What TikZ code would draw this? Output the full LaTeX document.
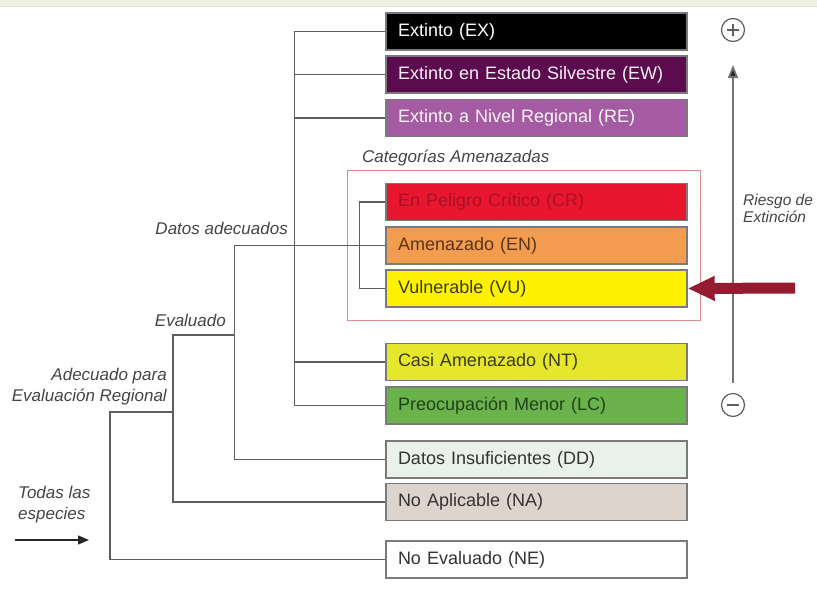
\documentclass[tikz,border=0pt]{standalone}
\usepackage{fontspec}
\setmainfont{Liberation Sans}
\usetikzlibrary{arrows.meta}
\definecolor{boxline}{HTML}{7A7A7A}
\definecolor{connc}{HTML}{5E5E5E}
\definecolor{cEW}{HTML}{5C0B4F}
\definecolor{cRE}{HTML}{A45BA1}
\definecolor{cCR}{HTML}{E8162E}
\definecolor{tCR}{HTML}{A8122A}
\definecolor{cEN}{HTML}{F39B4F}
\definecolor{tEN}{HTML}{5A3515}
\definecolor{cVU}{HTML}{FFF200}
\definecolor{tVU}{HTML}{3B3B12}
\definecolor{cNT}{HTML}{E6E62C}
\definecolor{cLC}{HTML}{6CB24C}
\definecolor{tLC}{HTML}{1D4418}
\definecolor{cDD}{HTML}{E9F1EA}
\definecolor{cNA}{HTML}{DDD5CD}
\definecolor{tdark}{HTML}{333333}
\definecolor{redbox}{HTML}{D9888C}
\definecolor{arrowred}{HTML}{951B30}
\definecolor{topband}{HTML}{EFF1E0}
\definecolor{labgray}{HTML}{444444}
\tikzset{
  cat/.style={draw=boxline, line width=1.4pt, text width=277pt, inner xsep=12pt,
    minimum height=37pt, align=left, font=\fontsize{18}{20}\selectfont},
  conn/.style={draw=connc, line width=1.3pt},
  lab/.style={text=labgray, font=\itshape\fontsize{17}{21}\selectfont, inner sep=0pt},
  pm/.style={circle, draw=connc, line width=1.2pt, minimum size=23pt, inner sep=0pt}
}
\begin{document}
\begin{tikzpicture}[x=1pt,y=-1pt]
\useasboundingbox (0,0) rectangle (817,590);
\clip (0,0) rectangle (817,590);
\fill[topband] (0,0) rectangle (817,6);
\draw[color=black!12, line width=0.8pt] (0,6.5) -- (817,6.5);

% category boxes
\node[cat, fill=black, text=white] (EX) at (536.5,31.5) {Extinto (EX)};
\node[cat, fill=cEW, text=white!95!cEW] (EW) at (536.5,74.5) {Extinto en Estado Silvestre (EW)};
\node[cat, fill=cRE, text=white!95!cRE] (RE) at (536.5,118) {Extinto a Nivel Regional (RE)};
\node[cat, fill=cCR, text=tCR] (CR) at (536.5,202) {En Peligro Crítico (CR)};
\node[cat, fill=cEN, text=tEN] (EN) at (536.5,245.5) {Amenazado (EN)};
\node[cat, fill=cVU, text=tVU] (VU) at (536.5,288.5) {Vulnerable (VU)};
\node[cat, fill=cNT, text=tVU] (NT) at (536.5,362) {Casi Amenazado (NT)};
\node[cat, fill=cLC, text=tLC] (LC) at (536.5,405.5) {Preocupación Menor (LC)};
\node[cat, fill=cDD, text=tdark] (DD) at (536.5,459.5) {Datos Insuficientes (DD)};
\node[cat, fill=cNA, text=tdark] (NA) at (536.5,502) {No Aplicable (NA)};
\node[cat, fill=white, text=tdark] (NE) at (536.5,559.5) {No Evaluado (NE)};

% threatened frame
\draw[redbox, line width=1pt] (347,170) rectangle (700,320);
\node[lab, anchor=west] (lcat) at (362,158) {Categorías Amenazadas};

% tree connectors
\draw[conn] (EX.west) -- ++(-91,0) coordinate (t1) |- (LC.west);
\draw[conn] (EW.west) -- (EW.west -| t1);
\draw[conn] (RE.west) -- (RE.west -| t1);
\draw[conn] (NT.west) -- (NT.west -| t1);
\draw[conn] (CR.west) -- ++(-26,0) |- (VU.west);
\draw[conn] (EN.west) -- ++(-151,0) coordinate (da) |- (DD.west);
\coordinate (ev) at (173,335);
\draw[conn] (da |- ev) -- (ev) |- (NA.west);
\coordinate (ad) at (110,412);
\draw[conn] (ev |- ad) -- (ad) |- (NE.west);

% branch labels
\node[lab, anchor=east] (lda) at (288,228) {Datos adecuados};
\node[lab, anchor=east] (lev) at (226,320) {Evaluado};
\node[lab, anchor=east, align=right] (lad) at (167,386.5) {Adecuado para\\Evaluación Regional};
\node[lab, anchor=west, align=left] (lto) at (18,505) {Todas las\\especies};
\coordinate (a0) at (15,540);
\coordinate (a1) at (89,540);
\draw[draw=black!85, line width=1.4pt, -{Triangle[length=11pt,width=9pt]}] (a0) -- (a1);

% risk axis
\node[pm] (plus) at (733,30) {};
\draw[connc, line width=1.2pt] ([xshift=-6pt]plus.center) -- ([xshift=6pt]plus.center);
\draw[connc, line width=1.2pt] ([yshift=-6pt]plus.center) -- ([yshift=6pt]plus.center);
\node[pm] (minus) at (733,405) {};
\draw[connc, line width=1.2pt] ([xshift=-6pt]minus.center) -- ([xshift=6pt]minus.center);
\coordinate (rb) at (733,383);
\coordinate (rt) at (733,65);
\draw[draw=black!55, line width=1.8pt, -{Triangle[length=13pt,width=10pt,fill=black!85]}] (rb) -- (rt);
\node[lab, anchor=west, align=left, font=\itshape\fontsize{15.5}{17}\selectfont] (lri) at (743,208) {Riesgo de\\Extinción};

% pointer arrow
\coordinate (ra) at (795,288);
\draw[draw=arrowred, line width=11pt, -{Triangle[length=27pt,width=23pt]}] (ra) -- (VU.east);
\end{tikzpicture}
\end{document}
